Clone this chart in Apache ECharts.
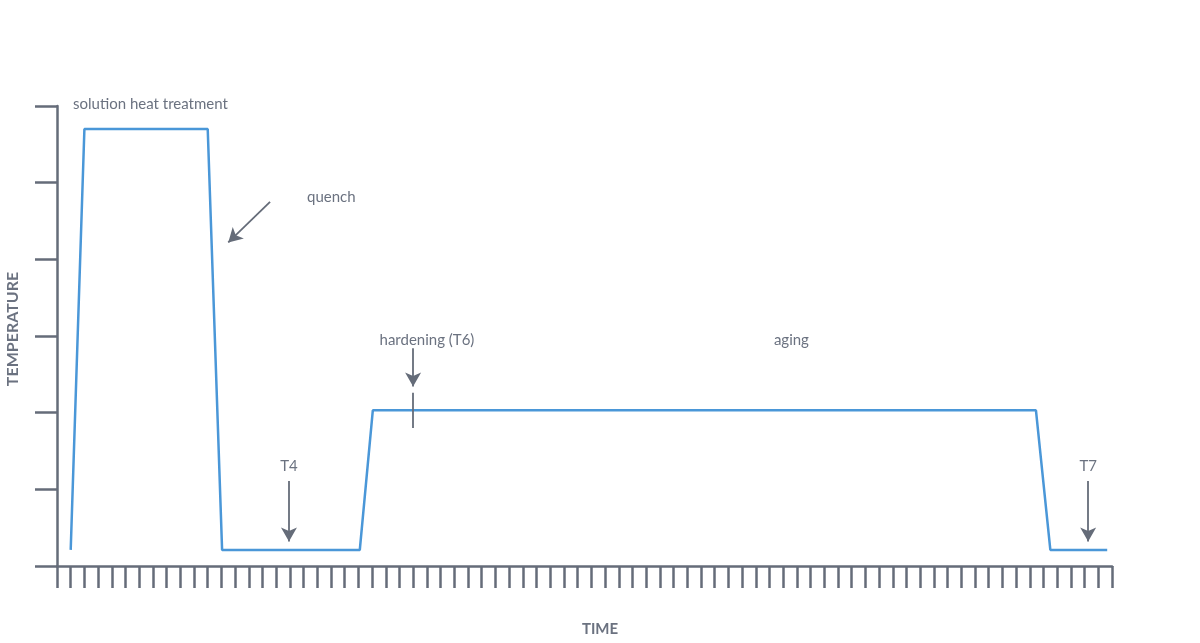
<!DOCTYPE html>
<html>
<head>
<meta charset="utf-8">
<script src="https://cdn.jsdelivr.net/npm/echarts@6/dist/echarts.min.js"></script>
<style>html,body{margin:0;padding:0;background:#fff}#c{width:1200px;height:643px}</style>
</head>
<body>
<div id="c"></div>
<script>
// Temperature profile (time, temperature) in axis units
const profileTime = [1.0, 2.0, 11.0, 12.05, 22.1, 23.05, 71.45, 72.5, 76.65];
const profileTemp = [0.21, 5.7, 5.7, 0.21, 0.21, 2.03, 2.03, 0.21, 0.21];
// Labels: text, time, temp, alignment
const labelText = ['solution heat treatment', 'quench', 'hardening (T6)', 'aging', 'T4', 'T7'];
const labelTime = [1.17, 18.25, 27.0, 53.6, 16.93, 75.26];
const labelTemp = [6.0, 4.81, 2.95, 2.95, 1.30, 1.30];
const labelAlign = ['left', 'left', 'center', 'center', 'center', 'center'];
// Arrows: start and end points
const arrowFrom = [[15.55, 4.75], [16.93, 1.11], [25.99, 2.84], [75.26, 1.11]];
const arrowTo = [[12.5, 4.22], [16.93, 0.32], [25.99, 2.34], [75.26, 0.32]];
// Marker line crossing the plateau at T6
const tickFrom = [25.99, 2.26];
const tickTo = [25.99, 1.80];

const gray = '#656c79';
const textGray = '#6b7280';
const blue = '#4a97d8';
const fontFam = 'Lato, "Open Sans", sans-serif';

const lineData = profileTime.map((t, i) => [t, profileTemp[i]]);
const markLineData = arrowFrom.map((f, i) => [
  { coord: f, symbol: 'none' },
  { coord: arrowTo[i], symbol: 'arrow' }
]);
markLineData.push([{ coord: tickFrom, symbol: 'none' }, { coord: tickTo, symbol: 'none' }]);

const markPointData = labelText.map((t, i) => ({
  coord: [labelTime[i], labelTemp[i]],
  symbol: 'circle',
  symbolSize: 0,
  label: {
    show: true,
    formatter: t,
    position: 'inside',
    align: labelAlign[i],
    verticalAlign: 'middle',
    offset: i === 0 ? [0, -2] : [0, 0],
    color: textGray,
    fontSize: 15,
    fontFamily: fontFam
  }
}));

const chart = echarts.init(document.getElementById('c'));
chart.setOption({
  animation: false,
  grid: { left: 57, right: 88, top: 106, bottom: 77, containLabel: false, outerBoundsMode: 'none' },
  xAxis: {
    type: 'value', min: 0, max: 77, interval: 1,
    name: 'TIME', nameLocation: 'middle', nameGap: 56,
    nameTextStyle: { color: textGray, fontWeight: 'bold', fontSize: 15, fontFamily: fontFam, padding: [0, 0, 0, 31] },
    axisLine: { show: true, onZero: false, lineStyle: { color: gray, width: 2.5 } },
    axisTick: { show: true, inside: false, length: 22, lineStyle: { color: gray, width: 2.5 } },
    axisLabel: { show: false },
    splitLine: { show: false }
  },
  yAxis: {
    type: 'value', min: 0, max: 6, interval: 1,
    name: 'TEMPERATURE', nameLocation: 'middle', nameGap: 36,
    nameTextStyle: { color: textGray, fontWeight: 'bold', fontSize: 16, fontFamily: fontFam, padding: [0, 0, 0, 14] },
    axisLine: { show: true, onZero: false, lineStyle: { color: gray, width: 2.5 } },
    axisTick: { show: true, inside: false, length: 22, lineStyle: { color: gray, width: 2.5 } },
    axisLabel: { show: false },
    splitLine: { show: false }
  },
  series: [{
    type: 'line',
    data: lineData,
    showSymbol: false,
    symbol: 'none',
    lineStyle: { color: blue, width: 2.5 },
    itemStyle: { color: blue },
    silent: true,
    markLine: {
      silent: true,
      symbolSize: [12, 14],
      label: { show: false },
      lineStyle: { color: gray, width: 1.8, type: 'solid' },
      itemStyle: { color: gray },
      emphasis: { disabled: true },
      data: markLineData
    },
    markPoint: {
      silent: true,
      data: markPointData
    }
  }]
});
</script>
</body>
</html>
